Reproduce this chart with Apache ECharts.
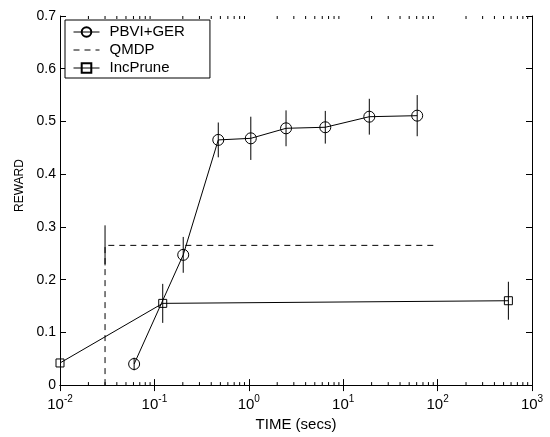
<!DOCTYPE html>
<html><head><meta charset="utf-8">
<script src="https://cdn.jsdelivr.net/npm/echarts@6/dist/echarts.min.js"></script>
<style>html,body{margin:0;padding:0;background:#fff}#c{width:550px;height:437px}</style>
</head><body><div id="c"></div>
<script>
// ---- data ----
const pbviX = [0.061, 0.202, 0.475, 1.05, 2.48, 6.46, 18.9, 60.8];
const pbviY = [0.040, 0.247, 0.465, 0.468, 0.487, 0.489, 0.509, 0.511];
const pbviErr = [0.012, 0.034, 0.033, 0.041, 0.034, 0.031, 0.034, 0.039];
const qmdpX = [0.03, 0.03, 90];
const qmdpY = [0, 0.265, 0.265];
const qmdpErrX = [0.03];
const qmdpErrY = [0.265];
const qmdpErr = [0.038];
const incX = [0.01, 0.1225, 562];
const incY = [0.042, 0.155, 0.160];
const incErr = [0, 0.037, 0.036];
const xMinor = [];
[0.01, 0.1, 1, 10, 100].forEach(d => { for (let k = 2; k <= 9; k++) xMinor.push(+(d * k).toPrecision(3)); });
const yMin = 0, yMax = 0.7;

const FONT = '"Liberation Sans", Arial, Helvetica, sans-serif';
const expOf = v => Math.round(Math.log10(v));

function errSeries(xs, ys, es, legendName) {
  return {
    type: 'custom', name: legendName, silent: true, z: 1, xAxisIndex: 0, yAxisIndex: 0,
    data: xs.map((x, i) => [x, ys[i] - es[i], ys[i] + es[i]]),
    encode: { x: 0, y: [1, 2] },
    renderItem: (params, api) => {
      const lo = api.coord([api.value(0), api.value(1)]);
      const hi = api.coord([api.value(0), api.value(2)]);
      return { type: 'line', shape: { x1: lo[0], y1: lo[1], x2: hi[0], y2: hi[1] },
        style: { stroke: '#000', lineWidth: 1 } };
    }
  };
}

const chart = echarts.init(document.getElementById('c'), null, { renderer: 'canvas' });
const baseAxisLine = { show: true, lineStyle: { color: '#000', width: 1 } };
chart.setOption({
  animation: false,
  backgroundColor: '#fff',
  grid: { left: 60, right: 18, top: 16, bottom: 50 },
  legend: {
    left: 65, top: 20, orient: 'vertical',
    data: ['PBVI+GER', 'QMDP', 'IncPrune'],
    itemWidth: 26, itemHeight: 12, itemGap: 2,
    padding: [4, 19, 2, 8],
    borderColor: '#000', borderWidth: 1, backgroundColor: '#fff',
    lineStyle: { width: 1 },
    textStyle: { fontFamily: FONT, fontSize: 15, lineHeight: 16, color: '#000', padding: [0, 6, 0, 5] }
  },
  xAxis: [
    { type: 'log', logBase: 10, min: 0.01, max: 1000, position: 'bottom',
      name: 'TIME (secs)', nameLocation: 'middle', nameGap: 27,
      nameTextStyle: { fontFamily: FONT, fontSize: 15, color: '#000' },
      axisLine: baseAxisLine, splitLine: { show: false },
      axisTick: { inside: true, length: 6, lineStyle: { color: '#000' } },
      axisLabel: { margin: 9, showMinLabel: true, showMaxLabel: true,
        formatter: v => '{b|10}{s|' + expOf(v) + '}',
        rich: { b: { fontFamily: FONT, fontSize: 15, color: '#000' },
                s: { fontFamily: FONT, fontSize: 10, color: '#000', verticalAlign: 'top', padding: [0, 0, 11, 0] } } } },
    { type: 'log', logBase: 10, min: 0.01, max: 1000, position: 'top',
      axisLine: baseAxisLine, splitLine: { show: false },
      axisTick: { inside: true, length: 6, lineStyle: { color: '#000' } },
      axisLabel: { show: false } }
  ],
  yAxis: [
    { type: 'value', min: yMin, max: yMax, interval: 0.1, position: 'left',
      name: 'REWARD', nameLocation: 'middle', nameGap: 34,
      nameTextStyle: { fontFamily: FONT, fontSize: 12, color: '#000', padding: [0, 0, 0, 30] },
      axisLine: baseAxisLine, splitLine: { show: false },
      axisTick: { inside: true, length: 6, lineStyle: { color: '#000' } },
      axisLabel: { margin: 4, fontFamily: FONT, fontSize: 14, color: '#000',
        formatter: v => v === 0 ? '0' : v.toFixed(1) } },
    { type: 'value', min: yMin, max: yMax, interval: 0.1, position: 'right',
      axisLine: baseAxisLine, splitLine: { show: false },
      axisTick: { inside: true, length: 6, lineStyle: { color: '#000' } },
      axisLabel: { show: false } }
  ],
  series: [
    { name: 'PBVI+GER', type: 'line', data: pbviX.map((x, i) => [x, pbviY[i]]),
      symbol: 'circle', symbolSize: 11, z: 3,
      lineStyle: { color: '#000', width: 1 },
      itemStyle: { color: 'rgba(0,0,0,0)', borderColor: '#000', borderWidth: 1 } },
    { name: 'QMDP', type: 'line', data: qmdpX.map((x, i) => [x, qmdpY[i]]),
      symbol: 'none', z: 2,
      lineStyle: { color: '#000', width: 1, type: [6, 5] },
      itemStyle: { color: 'rgba(0,0,0,0)', borderColor: 'rgba(0,0,0,0)', borderWidth: 0 } },
    { name: 'IncPrune', type: 'line', data: incX.map((x, i) => [x, incY[i]]),
      symbol: 'rect', symbolSize: 8, z: 3,
      lineStyle: { color: '#000', width: 1 },
      itemStyle: { color: 'rgba(0,0,0,0)', borderColor: '#000', borderWidth: 1 } },
    errSeries(pbviX, pbviY, pbviErr, 'PBVI+GER'),
    errSeries(qmdpErrX, qmdpErrY, qmdpErr, 'QMDP'),
    errSeries(incX, incY, incErr, 'IncPrune'),
    { type: 'custom', silent: true, clip: false, z: 5,
      data: xMinor.map(v => [v, yMin]),
      encode: { x: 0, y: 1 },
      renderItem: (params, api) => {
        const b = api.coord([api.value(0), yMin]);
        const t = api.coord([api.value(0), yMax]);
        return { type: 'group', children: [
          { type: 'line', shape: { x1: b[0], y1: b[1], x2: b[0], y2: b[1] - 3 }, style: { stroke: '#000', lineWidth: 1 } },
          { type: 'line', shape: { x1: t[0], y1: t[1], x2: t[0], y2: t[1] + 3 }, style: { stroke: '#000', lineWidth: 1 } }
        ] };
      } }
  ]
});
</script></body></html>
